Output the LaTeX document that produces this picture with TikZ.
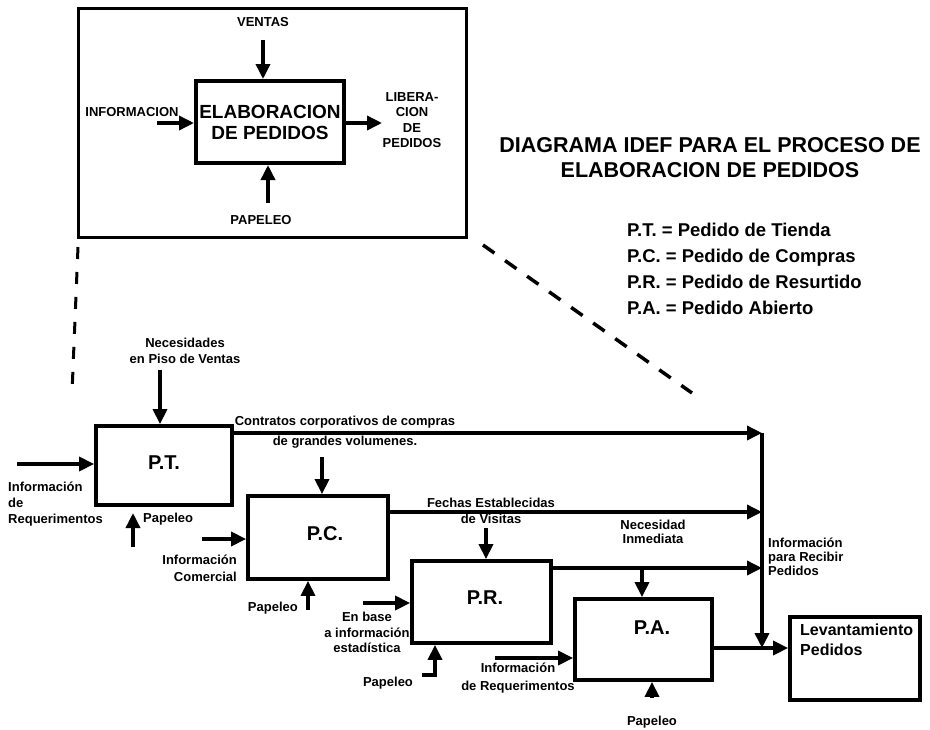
\documentclass[tikz,border=0pt]{standalone}
\usepackage{fontspec}
\setmainfont{Liberation Sans}
\usetikzlibrary{arrows.meta}
\tikzset{
  box/.style={draw, line width=3.8pt, inner sep=0pt},
  arr/.style={line width=3.5pt, -{Triangle[length=15pt,width=14pt]}},
  lbl/.style={font=\fontsize{13}{16}\selectfont\bfseries, inner sep=0pt},
  toplbl/.style={font=\fontsize{13}{15.3}\selectfont\bfseries, inner sep=0pt},
  big/.style={font=\fontsize{20}{24}\selectfont\bfseries, inner sep=0pt},
  dashln/.style={line width=3pt, dash pattern=on 12pt off 13pt},
}
\begin{document}
\begin{tikzpicture}[x=1pt,y=-1pt]
\useasboundingbox (0,0) rectangle (930,729);

% ---------- top detail box ----------
\node[draw, line width=3pt, minimum width=388, minimum height=229, inner sep=0pt] (frame) at (272,122.5) {};
\node[draw, line width=4pt, minimum width=148, minimum height=82, inner sep=0pt,
      align=center, font=\fontsize{19}{21}\selectfont\bfseries] (elab) at (270,122) {ELABORACION\\DE PEDIDOS};
\node[toplbl] (ventas) at (263,22) {VENTAS};
\node[toplbl] (papeleotop) at (261,220) {PAPELEO};
\node[toplbl] (informtop) at (132,112) {INFORMACION};
\node[toplbl, align=center] (liber) at (412,120) {LIBERA-\\CION\\DE\\PEDIDOS};
\coordinate (v0) at (263,40);
\coordinate (p0) at (268,203);
\coordinate (i0) at (157,123);
\coordinate (l0) at (382,123);
\draw[arr] (v0) -- (v0 |- elab.north);
\draw[arr] (p0) -- (p0 |- elab.south);
\draw[arr] (i0) -- (i0 -| elab.west);
\draw[arr] (l0 -| elab.east) -- (l0);

% ---------- title and legend ----------
\node[font=\fontsize{21.5}{25}\selectfont\bfseries, align=center, inner sep=0pt] (title) at (710,157.5)
  {DIAGRAMA IDEF PARA EL PROCESO DE\\ELABORACION DE PEDIDOS};
\node[font=\fontsize{18.5}{26}\selectfont\bfseries, align=left, anchor=west, inner sep=0pt] (legend) at (627,269)
  {P.T. = Pedido de Tienda\\P.C. = Pedido de Compras\\P.R. = Pedido de Resurtido\\P.A. = Pedido Abierto};

% ---------- dashed zoom lines ----------
\coordinate (d1a) at (78,247);
\coordinate (d1b) at (72,393);
\coordinate (d2a) at (483,245);
\coordinate (d2b) at (692,393);
\draw[dashln] (d1a) -- (d1b);
\draw[line width=3.5pt, dash pattern=on 14pt off 13pt] (d2a) -- (d2b);

% ---------- process boxes ----------
\node[box, minimum width=136, minimum height=79] (pt) at (164,465.5) {};
\node[box, minimum width=140, minimum height=83] (pc) at (318,537.5) {};
\node[box, minimum width=139, minimum height=82] (pr) at (481.5,602) {};
\node[box, minimum width=137, minimum height=81] (pa) at (643.5,639.5) {};
\node[box, minimum width=130, minimum height=83] (lv) at (855,658.5) {};
\node[big] (ptl) at (164,463) {P.T.};
\node[big] (pcl) at (325,534) {P.C.};
\node[big] (prl) at (485,598) {P.R.};
\node[big] (pal) at (652,628) {P.A.};
\node[font=\fontsize{16}{20}\selectfont\bfseries, align=left, anchor=west, inner sep=0pt] (lvl) at (800,640)
  {Levantamiento\\Pedidos};

% ---------- labels ----------
\node[lbl, align=center] (nec) at (185,350.5) {Necesidades\\en Piso de Ventas};
\node[lbl, align=center, font=\fontsize{13}{20}\selectfont\bfseries] (contr) at (345,432) {Contratos corporativos de compras\\de grandes volumenes.};
\node[lbl, align=left, anchor=west] (inreq) at (8,504) {Información\\de\\Requerimentos};
\node[lbl, anchor=west] (pappt) at (143,519) {Papeleo};
\node[lbl, align=right, anchor=east, font=\fontsize{13}{17}\selectfont\bfseries] (incom) at (237,568.5) {Información\\Comercial};
\node[lbl, anchor=east] (pappc) at (298,608) {Papeleo};
\node[lbl, align=center, font=\fontsize{13}{16}\selectfont\bfseries] (fech) at (491,510.5) {Fechas Establecidas\\de Visitas};
\node[lbl, align=center, font=\fontsize{13}{14}\selectfont\bfseries] (necin) at (653,531.5) {Necesidad\\Inmediata};
\node[lbl, align=center, font=\fontsize{13}{15.5}\selectfont\bfseries] (base) at (367,632.5) {En base\\a información\\estadística};
\node[lbl] (pappr) at (388,683) {Papeleo};
\node[lbl, align=center, font=\fontsize{13}{18}\selectfont\bfseries] (inreqa) at (518,678) {Información\\de Requerimentos};
\node[lbl] (pappa) at (652,722) {Papeleo};
\node[lbl, align=left, anchor=west, font=\fontsize{13}{14}\selectfont\bfseries] (inrec) at (768,557) {Información\\para Recibir\\Pedidos};

% ---------- connectors ----------
\coordinate (j1) at (762,433);
\coordinate (j2) at (762,512);
\coordinate (j3) at (762,568);
\coordinate (j4) at (762,648);
\coordinate (nec0) at (160,370);
\coordinate (ptin) at (17,464);
\coordinate (ptp0) at (133,547);
\coordinate (ptp1) at (133,513);
\coordinate (con0) at (322,457);
\coordinate (pcin) at (202,539);
\coordinate (pcp0) at (308,610);
\coordinate (fe0) at (486,528);
\coordinate (prin) at (363,603);
\coordinate (prp0) at (422,675);
\coordinate (prp1) at (435,675);
\coordinate (br) at (642,568);
\coordinate (pain) at (495,658);
\coordinate (pap0) at (652,698);

\draw[arr] (nec0) -- (nec0 |- pt.north);
\draw[arr] (ptin) -- (ptin -| pt.west);
\draw[arr] (ptp0) -- (ptp1);
\draw[arr] (pt.east |- j1) -- (j1);

\draw[arr] (con0) -- (con0 |- pc.north);
\draw[arr] (pcin) -- (pcin -| pc.west);
\draw[arr] (pcp0) -- (pcp0 |- pc.south);
\draw[arr] (pc.east |- j2) -- (j2);

\draw[arr] (fe0) -- (fe0 |- pr.north);
\draw[arr] (prin) -- (prin -| pr.west);
\draw[arr, line join=miter] (prp0) -- (prp1) -- (prp1 |- pr.south);
\draw[arr] (pr.east |- j3) -- (j3);
\draw[arr] (br) -- (br |- pa.north);

\draw[arr] (pain) -- (pain -| pa.west);
\draw[arr] (pap0) -- (pap0 |- pa.south);
\draw[arr] (pa.east |- j4) -- (j4 -| lv.west);

\draw[line width=4pt] (j1) -- ([yshift=-2pt]j1);
\draw[arr, line width=4pt] ([yshift=-2pt]j1) -- (j4);
\end{tikzpicture}
\end{document}
